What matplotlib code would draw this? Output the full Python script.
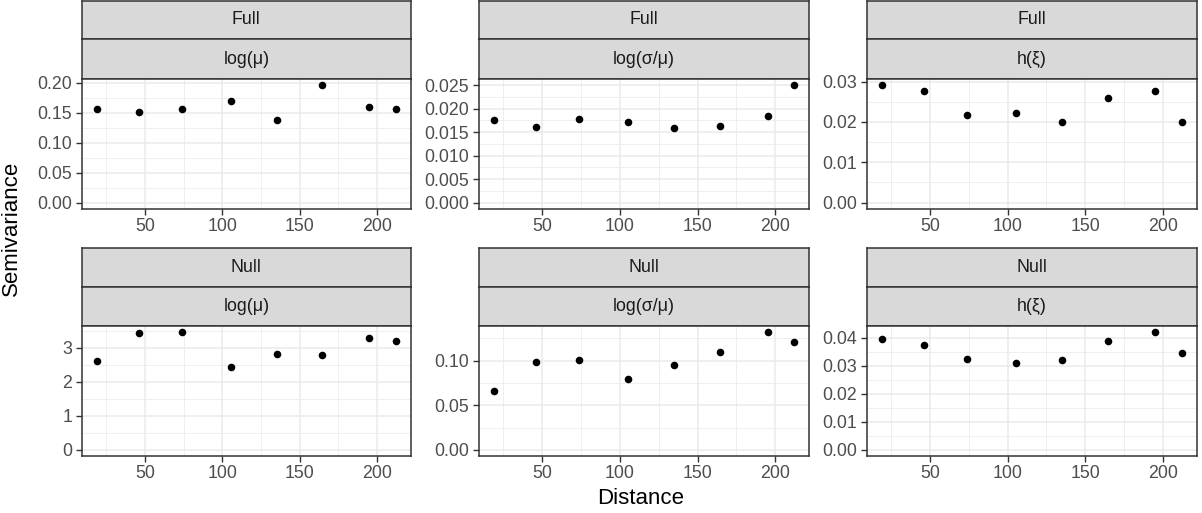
import matplotlib
matplotlib.use("Agg")
import matplotlib.pyplot as plt
import numpy as np

plt.rcParams['font.family'] = ['Liberation Sans', 'DejaVu Sans']

# --- data ---
distance = [19, 46, 74, 105.5, 135, 164.5, 195, 212]

models = ["Full", "Null"]
params = ["log(\u03bc)", "log(\u03c3/\u03bc)", "h(\u03be)"]

full_log_mu = [0.1565, 0.1515, 0.1565, 0.169, 0.1376, 0.1957, 0.160, 0.1565]
full_log_cv = [0.01763, 0.01608, 0.0177, 0.01708, 0.0158, 0.01636, 0.01848, 0.0250]
full_h_xi = [0.0291, 0.0276, 0.0218, 0.0222, 0.0200, 0.0260, 0.0277, 0.0200]

null_log_mu = [2.61, 3.45, 3.47, 2.45, 2.82, 2.78, 3.30, 3.21]
null_log_cv = [0.0655, 0.0989, 0.1007, 0.0790, 0.0948, 0.1097, 0.1322, 0.1213]
null_h_xi = [0.0394, 0.0374, 0.0325, 0.0309, 0.0322, 0.0387, 0.0421, 0.0347]

y_major = {
    (0, 0): [0, 0.05, 0.10, 0.15, 0.20],
    (0, 1): [0, 0.005, 0.010, 0.015, 0.020, 0.025],
    (0, 2): [0, 0.01, 0.02, 0.03],
    (1, 0): [0, 1, 2, 3],
    (1, 1): [0, 0.05, 0.10],
    (1, 2): [0, 0.01, 0.02, 0.03, 0.04],
}
y_fmt = {(0, 0): "{:.2f}", (0, 1): "{:.3f}", (0, 2): "{:.2f}",
         (1, 0): "{:.0f}", (1, 1): "{:.2f}", (1, 2): "{:.2f}"}

series = {(0, 0): full_log_mu, (0, 1): full_log_cv, (0, 2): full_h_xi,
          (1, 0): null_log_mu, (1, 1): null_log_cv, (1, 2): null_h_xi}

x_major = [50, 100, 150, 200]
x_minor = [25, 75, 125, 175]

# --- layout (pixels) ---
W, H = 1202, 513
cols = [(82, 410.7), (479, 809), (866.7, 1196.7)]
rows = [((0.5, 39.3), (39.3, 79.3), (79.3, 208.5)),
        ((247.7, 287), (287, 326), (326, 455.7))]

GREY20 = "#333333"
GREY30 = "#4D4D4D"
GREY92 = "#EBEBEB"
STRIP = "#D9D9D9"
SMALL = 12.8
TITLE = 16

fig = plt.figure(figsize=(W / 100, H / 100), dpi=100, facecolor="white")


def px_axes(x0, x1, y0, y1):
    return fig.add_axes([x0 / W, 1 - y1 / H, (x1 - x0) / W, (y1 - y0) / H])


def strip(x0, x1, y0, y1, label):
    sa = px_axes(x0, x1, y0, y1)
    sa.set_facecolor(STRIP)
    sa.set_xticks([])
    sa.set_yticks([])
    for s in sa.spines.values():
        s.set_color(GREY20)
        s.set_linewidth(1.1)
    sa.text(0.5, 0.5, label, transform=sa.transAxes, ha="center", va="center",
            fontsize=SMALL, color="#1A1A1A")


for r, (s1, s2, pan) in enumerate(rows):
    for c, (x0, x1) in enumerate(cols):
        strip(x0, x1, s1[0], s1[1], models[r])
        strip(x0, x1, s2[0], s2[1], params[c])
        ax = px_axes(x0, x1, pan[0], pan[1])
        vals = np.array(series[(r, c)])

        # ggplot-like limits: include 0, expand 5%
        xr = max(distance) - min(distance)
        ax.set_xlim(min(distance) - 0.05 * xr, max(distance) + 0.05 * xr)
        ymax = vals.max()
        ax.set_ylim(-0.05 * ymax, ymax * 1.05)

        yt = y_major[(r, c)]
        ax.set_xticks(x_major)
        ax.set_xticks(x_minor, minor=True)
        ax.set_yticks(yt)
        ymin_t = [(a + b) / 2 for a, b in zip(yt[:-1], yt[1:])]
        step = yt[1] - yt[0]
        if yt[-1] + step / 2 < ymax * 1.05:
            ymin_t.append(yt[-1] + step / 2)
        ax.set_yticks(ymin_t, minor=True)
        ax.set_yticklabels([y_fmt[(r, c)].format(v) for v in yt])

        ax.grid(which="major", color=GREY92, linewidth=1.1)
        ax.grid(which="minor", color=GREY92, linewidth=0.55)
        ax.set_axisbelow(True)

        ax.tick_params(which="major", length=4.5, width=1.0, color=GREY20,
                       labelsize=SMALL, labelcolor=GREY30, pad=2.5)
        ax.tick_params(which="minor", length=0)
        for s in ax.spines.values():
            s.set_color(GREY20)
            s.set_linewidth(1.1)

        ax.scatter(distance, vals, s=30, color="black", zorder=3, linewidths=0)

fig.text(641 / W, 1 - 498 / H, "Distance", ha="center", va="center",
         fontsize=TITLE, color="black")
fig.text(11 / W, 1 - 228 / H, "Semivariance", ha="center", va="center",
         rotation=90, fontsize=TITLE, color="black")

fig.savefig("out.png", dpi=100, facecolor="white")
